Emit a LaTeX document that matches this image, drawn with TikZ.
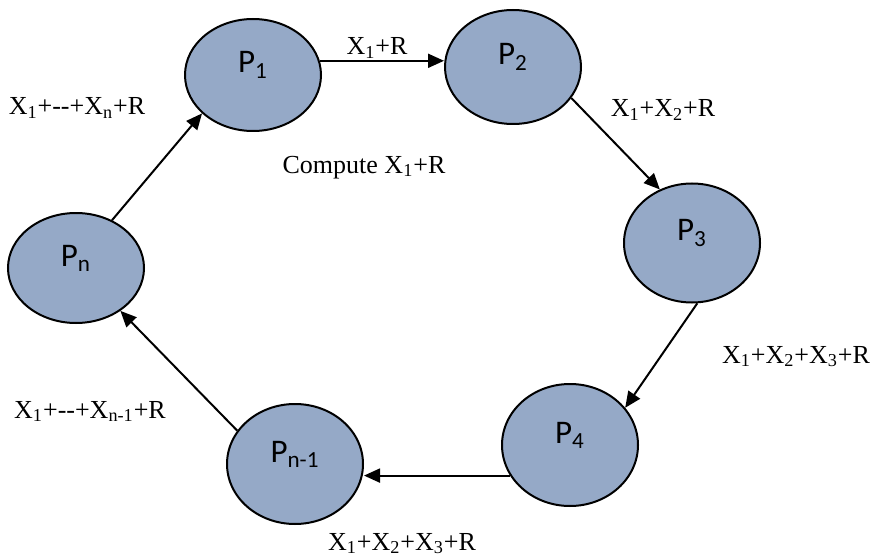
\documentclass[tikz,border=0pt]{standalone}
\usepackage{fontspec}
\setmainfont{Liberation Serif}
\newfontfamily\pfont{Carlito}
\usepackage{xcolor}
\usetikzlibrary{arrows.meta,shapes.geometric}
\definecolor{procblue}{RGB}{149,169,199}
\tikzset{
	proc/.style={
		ellipse,
		draw=black,
		fill=procblue,
		line width=1pt,
		minimum width=68pt,
		minimum height=57pt,
		inner sep=0pt,
		text height=8pt,
		text depth=10pt,
		font=\pfont\fontsize{16.5}{18}\selectfont
	},
	lab/.style={
		anchor=base,
		inner sep=0pt,
		font=\fontsize{13}{15}\selectfont
	},
	line/.style={-{Triangle[length=8pt,width=7pt]},line width=1pt}
}

\begin{document}
\begin{tikzpicture}[x=0.5pt,y=-0.5pt]
		\useasboundingbox (0,0) rectangle (873,556);

		\node[proc,minimum height=56pt] (p1) at (253,75) {P\textsubscript{1}};
		\node[proc,minimum height=57pt] (p2) at (513,67) {P\textsubscript{2}};
		\node[proc,minimum height=59.5pt] (p3) at (692,243) {P\textsubscript{3}};
		\node[proc,minimum height=61pt] (p4) at (570,445) {P\textsubscript{4}};
		\node[proc,minimum height=60pt] (pn1) at (295,464) {P\textsubscript{n-1}};
		\node[proc,minimum height=55pt] (pn) at (76,268) {P\textsubscript{n}};

		\node[lab] (l12) at (377,55) {X\textsubscript{1}+R};
		\node[lab] (l23) at (663,117) {X\textsubscript{1}+X\textsubscript{2}+R};
		\node[lab] (comp) at (364,173) {Compute X\textsubscript{1}+R};
		\node[lab] (l34) at (796,363) {X\textsubscript{1}+X\textsubscript{2}+X\textsubscript{3}+R};
		\node[lab] (l4n) at (402,550) {X\textsubscript{1}+X\textsubscript{2}+X\textsubscript{3}+R};
		\node[lab] (lnn) at (90,418) {X\textsubscript{1}+-{}-+X\textsubscript{n-1}+R};
		\node[lab] (ln1) at (77,115) {X\textsubscript{1}+-{}-+X\textsubscript{n}+R};

		\draw[line] (p1.12) -- (p1.12 -| p2.west);
		\draw[line] (p2.-28) -- (p3.121);
		\draw[line] (p3.-85) -- (p4.34);
		\draw[line] (p4.207) -- (p4.207 -| pn1.east);
		\draw[line] (pn1.150) -- (pn.-44);
		\draw[line] (pn.53) -- (p1.217);
	\end{tikzpicture}
\end{document}
